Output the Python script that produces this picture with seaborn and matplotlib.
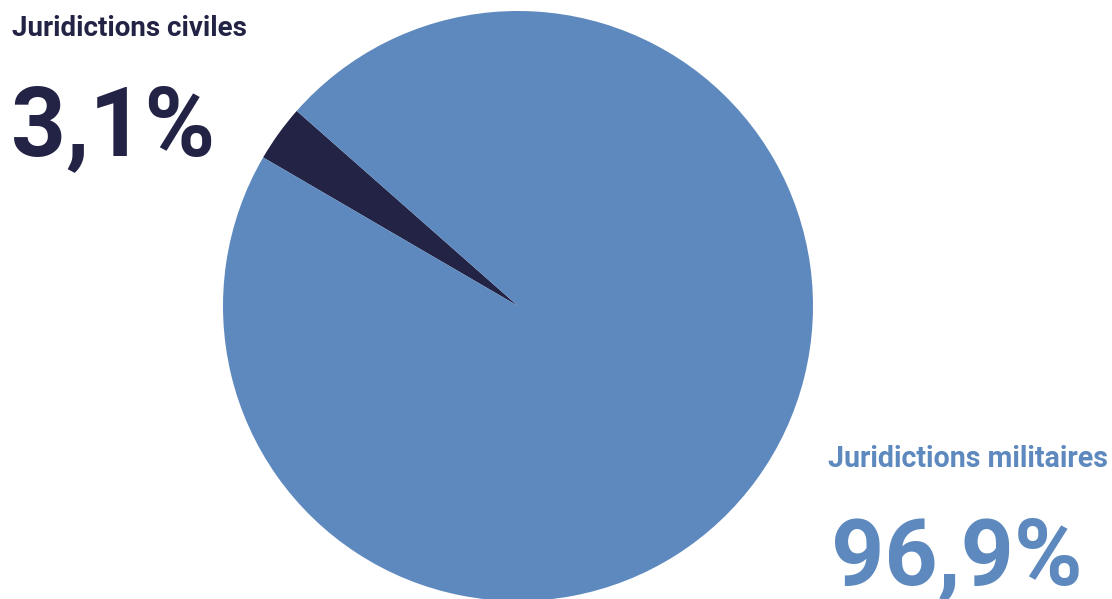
import matplotlib
matplotlib.use("Agg")
import matplotlib.pyplot as plt
import seaborn as sns

labels = ["Juridictions civiles", "Juridictions militaires"]
values = [3.1, 96.9]
value_labels = ["3,1%", "96,9%"]
colors = ["#222345", "#5d89be"]

sns.set_theme(style="white")
plt.rcParams['font.family'] = ['Roboto', 'DejaVu Sans']

fig = plt.figure(figsize=(11.12, 5.99), dpi=100)
W, H = 1112, 599
cx, cy, r = 518, 306, 295
ax = fig.add_axes([(cx - r) / W, (H - cy - r) / H, 2 * r / W, 2 * r / H])
ax.pie(values, colors=colors, startangle=138.6, counterclock=True,
       wedgeprops=dict(linewidth=0))
ax.set_xlim(-1, 1)
ax.set_ylim(-1, 1)
ax.set_aspect("equal")
ax.axis("off")

fig.text(12 / W, 1 - 36 / H, labels[0], color=colors[0], fontsize=20,
         fontweight="bold", ha="left", va="baseline")
fig.text(11 / W, 1 - 155 / H, value_labels[0], color=colors[0], fontsize=69,
         fontweight="bold", ha="left", va="baseline")
fig.text(1108 / W, 1 - 467 / H, labels[1], color=colors[1], fontsize=20.6,
         fontweight="bold", ha="right", va="baseline")
fig.text(831 / W, 1 - 584 / H, value_labels[1], color=colors[1], fontsize=67,
         fontweight="bold", ha="left", va="baseline")

fig.savefig("out.png", dpi=100, facecolor="white")
